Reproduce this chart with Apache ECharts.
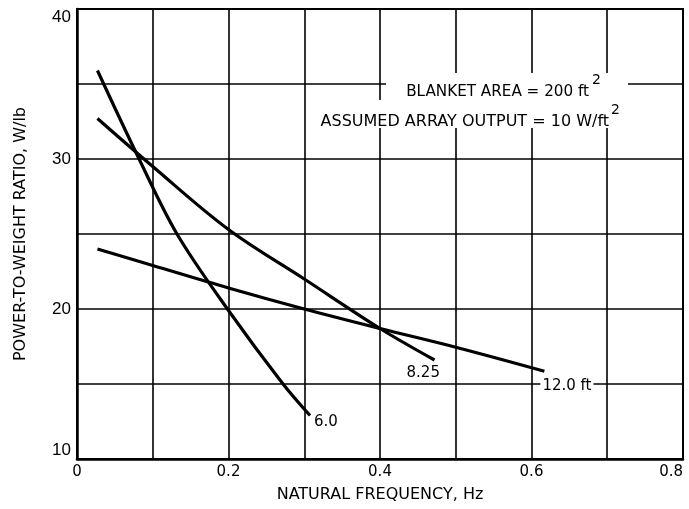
<!DOCTYPE html>
<html>
<head>
<meta charset="utf-8">
<script src="https://cdn.jsdelivr.net/npm/echarts@6/dist/echarts.min.js"></script>
<style>
    html, body { margin: 0; padding: 0; background: #fff; }
    #chart { width: 689px; height: 509px; }
</style>
</head>
<body>
<div id="chart"></div>
<script>
// curve data (natural frequency Hz -> power-to-weight W/lb)
var freq60 = [0.027, 0.082, 0.132, 0.2, 0.272, 0.3076];
var ratio60 = [35.9, 30.0, 25.0, 19.9, 15.0, 12.9];

var freq825 = [0.027, 0.1, 0.2, 0.3, 0.4, 0.472];
var ratio825 = [32.7, 29.5, 25.3, 22.0, 18.7, 16.6];

var freq120 = [0.027, 0.1, 0.2, 0.3, 0.4, 0.5, 0.617];
var ratio120 = [24.0, 22.9, 21.4, 20.0, 18.7, 17.45, 15.85];

var curveNames = ["6.0", "8.25", "12.0 ft"];

var xTicks = [0, 0.2, 0.4, 0.6, 0.8];
var yTicks = [10, 20, 30, 40];

var note1 = "BLANKET AREA = 200 ft";
var note2 = "ASSUMED ARRAY OUTPUT = 10 W/ft";
var noteSup = "2";

function pairs(xs, ys) {
    return xs.map(function (x, i) { return [x, ys[i]]; });
}

var chart = echarts.init(document.getElementById("chart"));
var font = "'DejaVu Sans', 'Open Sans', sans-serif";

function curve(name, xs, ys, labelPos) {
    var n = xs.length - 1;
    return {
        name: name,
        type: "line",
        smooth: 0.35,
        symbol: "none",
        silent: true,
        lineStyle: { color: "#000", width: 3.2 },
        data: pairs(xs, ys),
        markPoint: {
            symbol: "circle",
            symbolSize: 0,
            silent: true,
            label: {
                show: true,
                position: labelPos,
                align: "left",
                verticalAlign: "middle",
                formatter: name,
                color: "#000",
                fontFamily: font,
                fontSize: 15,
                backgroundColor: name === "12.0 ft" ? "#fff" : "transparent",
                padding: [0, 2]
            },
            data: [{ coord: [xs[n], ys[n]] }]
        }
    };
}

function note(text, x, y, size, align) {
    return {
        type: "text",
        x: x,
        y: y,
        z: 100,
        style: {
            text: text,
            fill: "#000",
            font: size + "px " + font,
            align: align,
            verticalAlign: "middle"
        }
    };
}

chart.setOption({
    animation: false,
    grid: {
        left: 77,
        right: 6,
        top: 9,
        bottom: 50,
        show: true,
        borderColor: "#000",
        borderWidth: 2,
        outerBoundsMode: "none"
    },
    xAxis: {
        type: "value",
        min: 0,
        max: 0.8,
        interval: 0.1,
        name: "NATURAL FREQUENCY, Hz",
        nameLocation: "middle",
        nameGap: 28,
        nameTextStyle: { color: "#000", fontFamily: font, fontSize: 16 },
        axisLine: { show: true, lineStyle: { color: "#000", width: 2.5 } },
        axisTick: { show: false },
        splitLine: { show: true, lineStyle: { color: "#000", width: 1.6 } },
        axisLabel: {
            color: "#000",
            fontFamily: font,
            fontSize: 15,
            margin: 6,
            alignMaxLabel: "right",
            formatter: function (v) {
                var r = Math.round(v * 10) / 10;
                for (var i = 0; i < xTicks.length; i++) {
                    if (Math.abs(xTicks[i] - r) < 1e-6) return r === 0 ? "0" : r.toFixed(1);
                }
                return "";
            }
        }
    },
    yAxis: {
        type: "value",
        min: 10,
        max: 40,
        interval: 5,
        name: "POWER-TO-WEIGHT RATIO, W/lb",
        nameLocation: "middle",
        nameGap: 48,
        nameTextStyle: { color: "#000", fontFamily: font, fontSize: 16 },
        axisLine: { show: true, lineStyle: { color: "#000", width: 2.5 } },
        axisTick: { show: false },
        splitLine: { show: true, lineStyle: { color: "#000", width: 1.6 } },
        axisLabel: {
            color: "#000",
            fontFamily: "'Liberation Sans Narrow', 'Liberation Sans', sans-serif",
            fontSize: 17,
            margin: 6,
            verticalAlignMinLabel: "bottom",
            verticalAlignMaxLabel: "top",
            formatter: function (v) {
                return yTicks.indexOf(v) >= 0 ? String(v) : "";
            }
        }
    },
    graphic: [
        { type: "rect", z: 90, shape: { x: 386, y: 73, width: 242, height: 28 }, style: { fill: "#fff" } },
        { type: "rect", z: 90, shape: { x: 316, y: 100, width: 309, height: 28 }, style: { fill: "#fff" } },
        note(note1, 589, 92, 15.2, "right"),
        note(noteSup, 592, 80, 14, "left"),
        note(note2, 609, 122, 16, "right"),
        note(noteSup, 611, 110, 14, "left")
    ],
    series: [
        curve(curveNames[0], freq60, ratio60, [2, 7]),
        curve(curveNames[1], freq825, ratio825, [-30, 13]),
        curve(curveNames[2], freq120, ratio120, [-4, 15])
    ]
});
</script>
</body>
</html>
